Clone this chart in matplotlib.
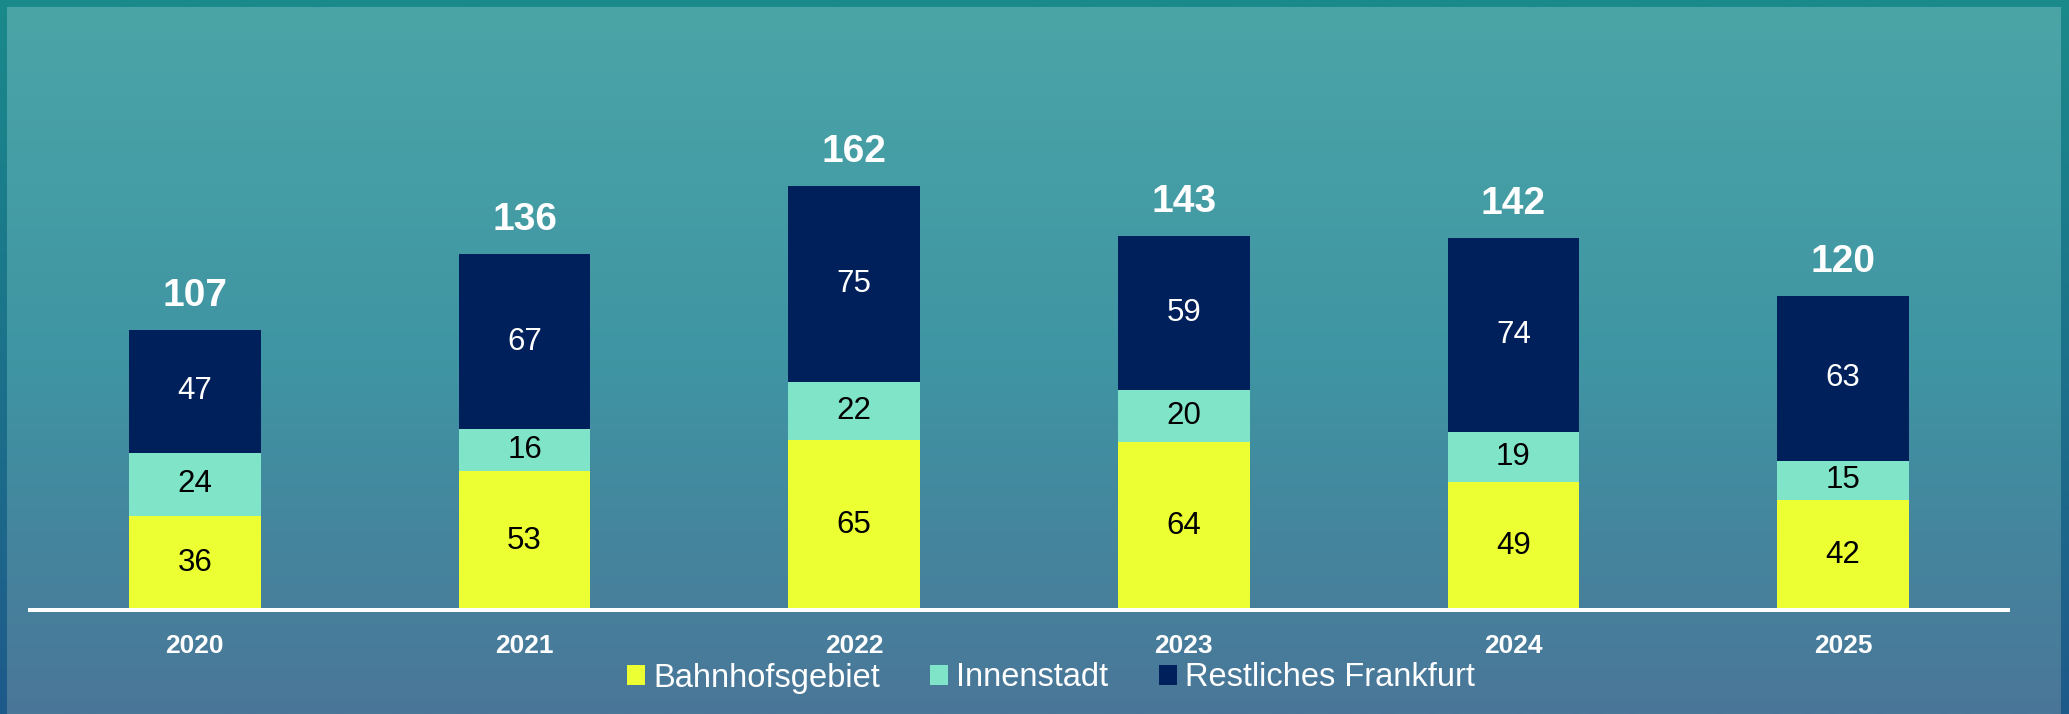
import matplotlib
matplotlib.use("Agg")
import matplotlib.pyplot as plt
import numpy as np
from matplotlib.patches import Patch
from matplotlib.colors import LinearSegmentedColormap

years = ["2020", "2021", "2022", "2023", "2024", "2025"]
bahnhof = [36, 53, 65, 64, 49, 42]
innen = [24, 16, 22, 20, 19, 15]
rest = [47, 67, 75, 59, 74, 63]
totals = [107, 136, 162, 143, 142, 120]
series_names = ["Bahnhofsgebiet", "Innenstadt", "Restliches Frankfurt"]
colors = ["#ecff33", "#80e5c8", "#00205b"]
label_colors = ["black", "black", "white"]

W, H = 2069, 714
fig = plt.figure(figsize=(W / 100, H / 100), dpi=100)
plt.rcParams['font.family'] = ['Liberation Sans', 'DejaVu Sans']

# border gradient
bg = fig.add_axes([0, 0, 1, 1])
bg.set_axis_off()
grad = np.linspace(0, 1, 256).reshape(-1, 1)
cm_border = LinearSegmentedColormap.from_list("b", ["#1a8a8a", "#1e5a8a"])
bg.imshow(grad, aspect="auto", cmap=cm_border, extent=[0, 1, 0, 1], origin="upper")
bg.set_xlim(0, 1); bg.set_ylim(0, 1)
# inner gradient
inner = fig.add_axes([7 / W, 0, (2061 - 7) / W, (H - 7) / H])
inner.set_axis_off()
cm_inner = LinearSegmentedColormap.from_list("i", ["#4ba5a7", "#3f95a3", "#4a7698"])
inner.imshow(grad, aspect="auto", cmap=cm_inner, extent=[0, 1, 0, 1], origin="upper")
inner.set_xlim(0, 1); inner.set_ylim(0, 1)

ppu = 424 / 162.0
ymax = 200
ax_h = ymax * ppu
base_px = 610
ax = fig.add_axes([30 / W, (H - base_px) / H, 1978 / W, ax_h / H])
ax.set_facecolor("none")
x = np.arange(len(years))
bw = 0.4
bottom = np.zeros(len(years))
for vals, c, lc in zip([bahnhof, innen, rest], colors, label_colors):
    vals = np.array(vals)
    ax.bar(x, vals, bw, bottom=bottom, color=c, edgecolor="none")
    for xi, b, v in zip(x, bottom, vals):
        ax.text(xi, b + v / 2, str(v), ha="center", va="center", fontsize=22.5, color=lc)
    bottom = bottom + vals
for xi, t, top in zip(x, totals, bottom):
    ax.annotate(str(t), xy=(xi, top), xytext=(0, 34 * 72 / 100), textcoords="offset points",
                ha="center", va="center", fontsize=28, fontweight="bold", color="white")
    ax.annotate(years[xi], xy=(xi, 0), xytext=(0, -36 * 72 / 100), textcoords="offset points",
                ha="center", va="center", fontsize=19, fontweight="bold", color="white",
                annotation_clip=False)
ax.set_xlim(-0.5, len(years) - 0.5)
ax.set_ylim(0, ymax)
ax.axhline(0, color="white", linewidth=4 * 72 / 100, clip_on=False, zorder=5)
for s in ax.spines.values():
    s.set_visible(False)
ax.set_xticks([]); ax.set_yticks([])

handles = [Patch(facecolor=c, edgecolor="none") for c in colors]
leg = fig.legend(handles, series_names, loc="center", bbox_to_anchor=(1051 / W, 1 - 678 / H),
                 ncol=3, frameon=False, fontsize=23.5, handlelength=0.55, handleheight=0.55,
                 handletextpad=0.25, columnspacing=1.55, borderpad=0)
for t in leg.get_texts():
    t.set_color("white")

fig.savefig("out.png", dpi=100)
